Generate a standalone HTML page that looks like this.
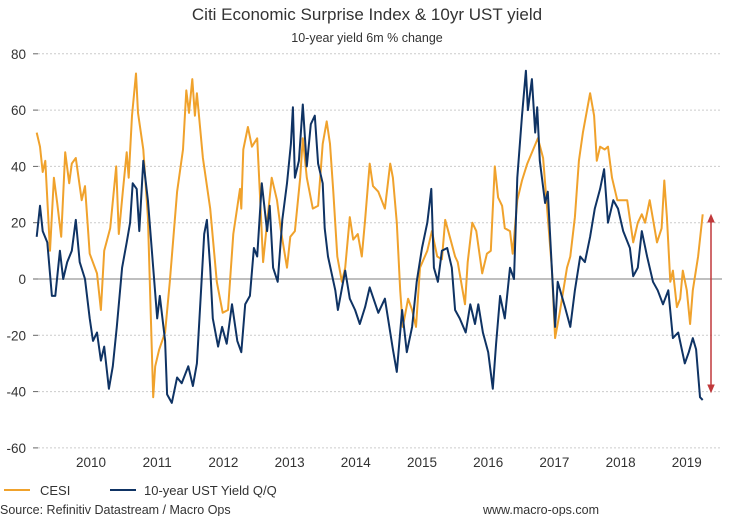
<!DOCTYPE html>
<html><head><meta charset="utf-8"><style>
body{margin:0;background:#fff;width:734px;height:516px;overflow:hidden;font-family:"Liberation Sans",Arial,sans-serif}
</style></head><body>
<svg id="chart" width="734" height="516" xmlns="http://www.w3.org/2000/svg" font-family="Liberation Sans, Arial, sans-serif">
<text x="367" y="20" text-anchor="middle" font-size="17" fill="#333">Citi Economic Surprise Index &amp; 10yr UST yield</text>
<text x="367" y="42" text-anchor="middle" font-size="12.5" fill="#333">10-year yield 6m % change</text>
<g id="grid"></g><g id="yt"></g><g id="xt"></g><g id="series"></g>
<g stroke="#c0393b" fill="#c0393b">
<line x1="711" y1="220" x2="711" y2="387" stroke-width="1.5"/>
<polygon points="708,222 714,222 711,215"/><polygon points="708,385 714,385 711,392"/>
</g>
<g>
<line x1="4" y1="490" x2="30" y2="490" stroke="#f0a22c" stroke-width="2"/>
<text x="40" y="495" font-size="13" fill="#333">CESI</text>
<line x1="110" y1="490" x2="136" y2="490" stroke="#0f3364" stroke-width="2"/>
<text x="144" y="495" font-size="13" fill="#333">10-year UST Yield Q/Q</text>
</g>
<text x="0" y="514" font-size="12.5" fill="#333">Source: Refinitiv Datastream / Macro Ops</text>
<text x="483" y="514" font-size="12.5" fill="#333">www.macro-ops.com</text>
</svg>
<script>
const yTicks=[80,60,40,20,0,-20,-40,-60];
const xTicks=[2010,2011,2012,2013,2014,2015,2016,2017,2018,2019];
const cesiDates=[2009.18,2009.23,2009.27,2009.31,2009.38,2009.44,2009.49,2009.55,2009.61,2009.67,2009.71,2009.77,2009.86,2009.91,2009.98,2010.09,2010.15,2010.20,2010.29,2010.38,2010.42,2010.48,2010.54,2010.57,2010.62,2010.68,2010.71,2010.79,2010.86,2010.94,2010.97,2011.03,2011.12,2011.19,2011.30,2011.39,2011.44,2011.48,2011.53,2011.57,2011.60,2011.69,2011.80,2011.90,2011.99,2012.07,2012.15,2012.25,2012.27,2012.30,2012.37,2012.43,2012.51,2012.55,2012.60,2012.66,2012.73,2012.81,2012.87,2012.96,2013.01,2013.08,2013.16,2013.20,2013.26,2013.35,2013.43,2013.50,2013.56,2013.61,2013.66,2013.72,2013.79,2013.84,2013.91,2013.96,2014.03,2014.09,2014.14,2014.21,2014.26,2014.34,2014.44,2014.52,2014.56,2014.62,2014.67,2014.71,2014.79,2014.85,2014.91,2014.97,2015.08,2015.15,2015.23,2015.30,2015.35,2015.42,2015.50,2015.54,2015.65,2015.69,2015.76,2015.82,2015.91,2015.98,2016.04,2016.10,2016.15,2016.21,2016.25,2016.33,2016.37,2016.44,2016.51,2016.59,2016.68,2016.75,2016.83,2016.90,2016.96,2017.01,2017.08,2017.19,2017.24,2017.31,2017.37,2017.43,2017.54,2017.60,2017.64,2017.69,2017.76,2017.81,2017.87,2017.95,2018.02,2018.10,2018.19,2018.26,2018.32,2018.37,2018.44,2018.55,2018.62,2018.66,2018.70,2018.75,2018.79,2018.85,2018.90,2018.94,2019.00,2019.05,2019.09,2019.17,2019.24];
const cesiValues=[52,47,38,42,10,36,27,15,45,34,41,43,28,33,9,2,-11,10,18,40,16,31,45,36,58,73,59,46,22,-42,-31,-25,-19,-1,31,46,67,59,71,58,66,43,25,-1,-12,-11,16,32,25,46,54,47,50,31,6,20,36,28,17,4,15,17,36,50,36,25,26,48,56,48,31,8,-1,4,22,14,16,8,21,41,33,31,25,41,36,20,-4,-17,-7,-11,-17,4,10,17,8,7,21,15,8,6,-9,6,20,17,2,9,10,40,29,26,18,17,9,28,35,41,46,50,43,22,4,-21,-12,4,8,22,42,52,66,58,42,47,46,47,36,28,28,28,13,20,23,20,28,13,18,35,22,-1,3,-10,-7,3,-4,-16,-4,8,23];
const ustDates=[2009.18,2009.23,2009.27,2009.34,2009.41,2009.46,2009.53,2009.58,2009.64,2009.71,2009.77,2009.83,2009.91,2009.98,2010.03,2010.09,2010.15,2010.20,2010.27,2010.33,2010.39,2010.47,2010.54,2010.59,2010.63,2010.69,2010.73,2010.79,2010.86,2010.94,2011.00,2011.04,2011.12,2011.15,2011.22,2011.30,2011.37,2011.47,2011.54,2011.60,2011.66,2011.71,2011.75,2011.80,2011.84,2011.92,2011.98,2012.05,2012.13,2012.21,2012.27,2012.33,2012.40,2012.46,2012.51,2012.58,2012.66,2012.70,2012.75,2012.82,2012.89,2012.96,2013.02,2013.05,2013.08,2013.14,2013.20,2013.26,2013.32,2013.38,2013.43,2013.50,2013.53,2013.58,2013.69,2013.73,2013.84,2013.91,2013.99,2014.06,2014.14,2014.21,2014.34,2014.44,2014.56,2014.62,2014.70,2014.77,2014.85,2014.92,2015.00,2015.08,2015.14,2015.18,2015.24,2015.30,2015.38,2015.45,2015.50,2015.57,2015.66,2015.73,2015.80,2015.85,2015.92,2016.00,2016.07,2016.12,2016.18,2016.25,2016.33,2016.39,2016.44,2016.51,2016.57,2016.60,2016.66,2016.71,2016.74,2016.78,2016.86,2016.90,2016.96,2017.01,2017.05,2017.16,2017.24,2017.31,2017.39,2017.46,2017.54,2017.61,2017.69,2017.75,2017.81,2017.89,2017.96,2018.04,2018.14,2018.19,2018.26,2018.32,2018.40,2018.49,2018.56,2018.64,2018.72,2018.79,2018.87,2018.97,2019.03,2019.09,2019.14,2019.20,2019.24];
const ustValues=[15,26,17,13,-6,-6,10,0,6,10,21,6,0,-14,-22,-19,-29,-24,-39,-31,-17,4,13,20,34,32,17,42,28,4,-14,-6,-22,-41,-44,-35,-37,-31,-38,-30,-5,16,21,4,-14,-24,-17,-23,-9,-22,-26,-9,-6,11,8,34,17,26,4,-1,21,34,48,61,36,42,62,40,55,58,41,34,18,8,-4,-11,3,-7,-11,-16,-10,-3,-12,-7,-25,-33,-11,-26,-17,-1,11,20,32,4,-1,10,11,4,-11,-14,-19,-9,-16,-9,-19,-26,-39,-23,-6,-14,4,0,36,58,74,60,71,52,61,42,27,31,4,-17,-1,-10,-17,-4,8,6,15,25,32,39,20,28,25,17,11,1,4,17,8,-1,-4,-9,-4,-21,-19,-30,-26,-21,-25,-42,-43];
const X0=38,X1=722;
function xs(t){return 91+(t-2010)*66.2;}
function ys(v){return 279-v*2.815;}
const NS="http://www.w3.org/2000/svg";
const grid=document.getElementById('grid'),yt=document.getElementById('yt'),xt=document.getElementById('xt'),ser=document.getElementById('series');
yTicks.forEach(v=>{
  const l=document.createElementNS(NS,'line');
  l.setAttribute('x1',X0);l.setAttribute('x2',X1);l.setAttribute('y1',ys(v));l.setAttribute('y2',ys(v));
  l.setAttribute('stroke',v===0?'#999':'#ccc');l.setAttribute('stroke-width',v===0?1.3:1);
  if(v!==0)l.setAttribute('stroke-dasharray','2,2');
  
  
  grid.appendChild(l);
  const tk=document.createElementNS(NS,'line');
  tk.setAttribute('x1',33);tk.setAttribute('x2',38);tk.setAttribute('y1',ys(v));tk.setAttribute('y2',ys(v));tk.setAttribute('stroke','#666');
  
  
  yt.appendChild(tk);
  const t=document.createElementNS(NS,'text');
  t.setAttribute('x',26);t.setAttribute('y',ys(v)+5);t.setAttribute('text-anchor','end');t.setAttribute('font-size','13.5');t.setAttribute('fill','#333');
  t.textContent=v;
  
  
  yt.appendChild(t);
});
xTicks.forEach(y=>{
  const t=document.createElementNS(NS,'text');
  t.setAttribute('x',xs(y));t.setAttribute('y',467);t.setAttribute('text-anchor','middle');t.setAttribute('font-size','13.5');t.setAttribute('fill','#333');
  t.textContent=y;
  
  
  xt.appendChild(t);
});
function drawLine(dates,vals,color,name){
  const n=Math.min(dates.length,vals.length);
  const pts=[];
  for(let i=0;i<n;i++)pts.push(xs(dates[i]).toFixed(1)+','+ys(vals[i]).toFixed(1));
  const p=document.createElementNS(NS,'polyline');
  p.setAttribute('points',pts.join(' '));
  p.setAttribute('fill','none');p.setAttribute('stroke',color);p.setAttribute('stroke-width','2');p.setAttribute('stroke-linejoin','round');
  
  
  ser.appendChild(p);
}
drawLine(cesiDates,cesiValues,'#f0a22c','cesi-line');
drawLine(ustDates,ustValues,'#0f3364','ust-yield-line');
</script>
</body></html>
